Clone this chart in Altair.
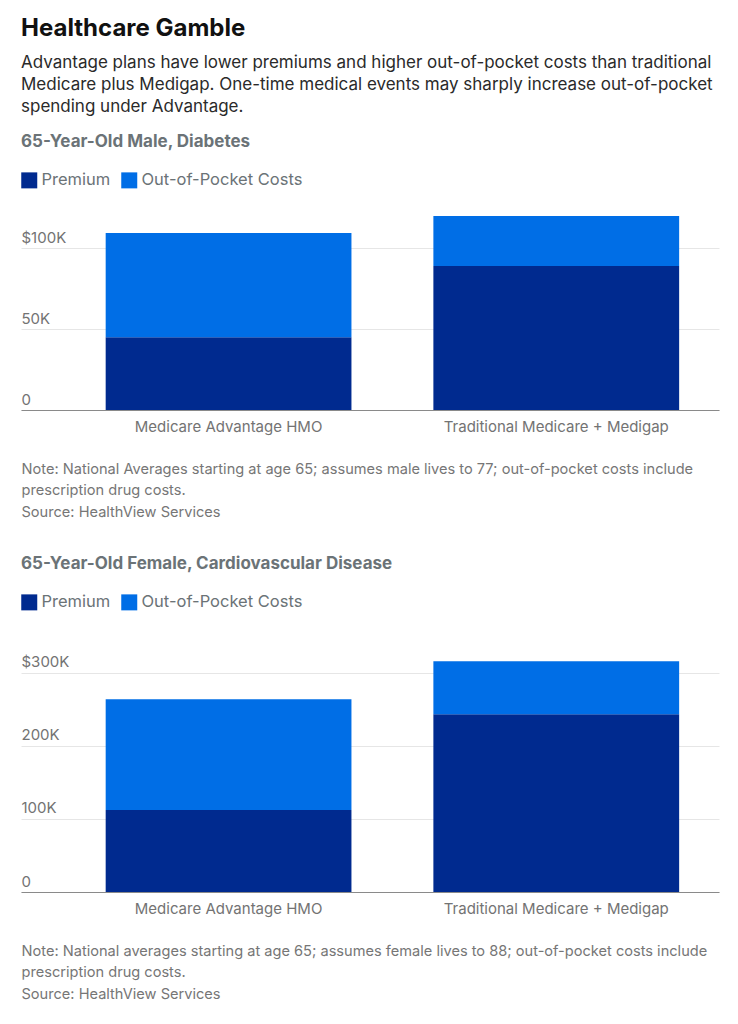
import altair as alt
import pandas as pd

plans = ["Medicare Advantage HMO", "Traditional Medicare + Medigap"]
components = ["Premium", "Out-of-Pocket Costs"]
male_premium = [45000, 89000]
male_oop = [64500, 31000]
female_premium = [112000, 243000]
female_oop = [151500, 72500]
male_ticks = [0, 50000, 100000]
female_ticks = [0, 100000, 200000, 300000]
colors = ["#002A8F", "#006EE6"]

male_note = ["Note: National Averages starting at age 65; assumes male lives to 77; out-of-pocket costs include",
             "prescription drug costs.", "Source: HealthView Services"]
female_note = ["Note: National averages starting at age 65; assumes female lives to 88; out-of-pocket costs include",
               "prescription drug costs.", "Source: HealthView Services"]


def make_df(prem, oop):
    rows = []
    for i, p in enumerate(plans):
        rows.append({"plan": p, "component": components[0], "value": prem[i], "order": 0})
        rows.append({"plan": p, "component": components[1], "value": oop[i], "order": 1})
    return pd.DataFrame(rows)


def panel(df, title, ticks, ymax, height, note, legend_offset):
    top = max(ticks)
    label_expr = ("datum.value == 0 ? '0' : (datum.value == %d ? '$' : '') + "
                  "format(datum.value / 1000, 'd') + 'K'" % top)
    return alt.Chart(df).mark_bar().encode(
        x=alt.X("plan:N", sort=plans,
                scale=alt.Scale(paddingInner=0.25, paddingOuter=0.19, align=0.68),
                axis=alt.Axis(title=note, labelAngle=0, labelFontSize=15, labelColor="#737373",
                              labelPadding=9, labelLimit=0, ticks=False, grid=False,
                              domainColor="#8a8a8a",
                              titleAnchor="start", titleAlign="left", titleFontSize=14.6,
                              titleFontWeight="normal", titleColor="#767676", titleLineHeight=21.5,
                              titlePadding=27)),
        y=alt.Y("value:Q", stack="zero",
                scale=alt.Scale(domain=[0, ymax], nice=False),
                axis=alt.Axis(values=ticks, labelExpr=label_expr, title=None, ticks=False,
                              tickSize=0, domain=False, labelAlign="left", labelPadding=0,
                              labelBaseline="bottom", labelOffset=-3, labelFontSize=15,
                              labelColor="#737373", gridColor="#e6e6e6")),
        color=alt.Color("component:N", sort=components,
                        scale=alt.Scale(domain=components, range=colors),
                        legend=alt.Legend(title=None, orient="top", direction="horizontal",
                                          offset=legend_offset, symbolType="square",
                                          symbolSize=256, symbolStrokeWidth=0,
                                          labelFontSize=16.5, labelColor="#6b7377",
                                          labelLimit=0, labelOffset=4, columnPadding=10)),
        order=alt.Order("order:Q"),
    ).properties(
        width=698, height=height,
        title=alt.TitleParams(title, anchor="start", fontSize=17, fontWeight="bold",
                              color="#6b7377", offset=21),
    )


male = panel(make_df(male_premium, male_oop), "65-Year-Old Male, Diabetes",
             male_ticks, 120000, 194, male_note, 27)
female = panel(make_df(female_premium, female_oop), "65-Year-Old Female, Cardiovascular Disease",
               female_ticks, 320000, 234, female_note, 47)

chart = alt.vconcat(male, female, spacing=36).resolve_scale(color="independent").properties(
    title=alt.TitleParams(
        "Healthcare Gamble",
        subtitle=["Advantage plans have lower premiums and higher out-of-pocket costs than traditional",
                  "Medicare plus Medigap. One-time medical events may sharply increase out-of-pocket",
                  "spending under Advantage."],
        anchor="start", fontSize=24, fontWeight="bold", color="#111111",
        subtitleFontSize=17, subtitleColor="#2a2a2a", subtitleLineHeight=22,
        subtitlePadding=14, offset=18),
    padding={"left": 21, "top": 17, "right": 19, "bottom": 8},
).configure(font="Inter").configure_view(stroke=None)

chart.save("out.html", embed_options={"renderer": "svg", "actions": False})
